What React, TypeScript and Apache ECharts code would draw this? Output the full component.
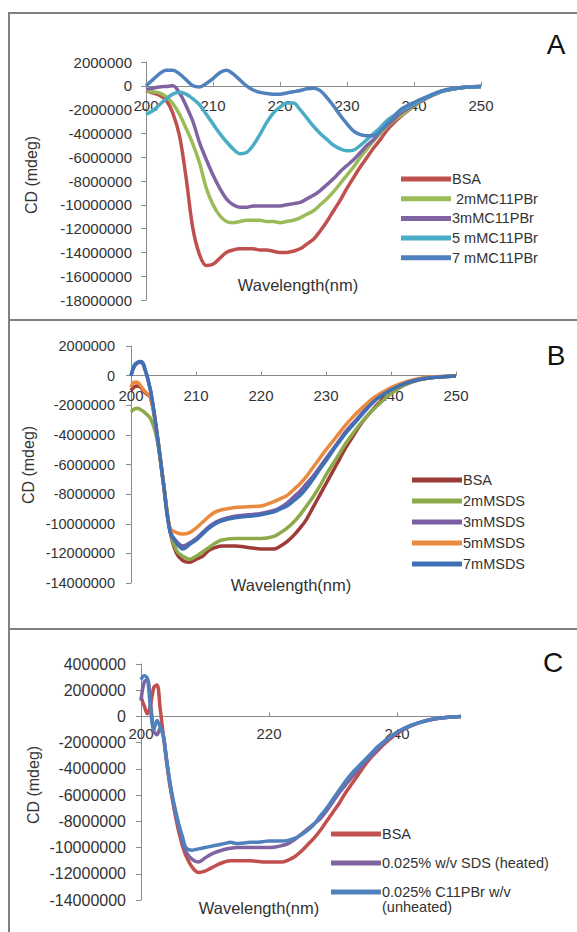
import React, { useEffect, useRef } from 'react';
import * as echarts from 'echarts';

const FONT = '"Liberation Sans", Arial, Helvetica, sans-serif';
const M = 1e6; // values below are in millions of mdeg

// ---------- Panel A ----------
const wlA = [200, 201, 202, 203, 204, 205, 206, 207, 208, 209, 210, 211, 212, 213, 214, 215, 216, 217, 218, 219, 220, 221, 222, 223, 224, 225, 226, 227, 228, 229, 230, 231, 232, 233, 234, 235, 236, 237, 238, 240, 242, 244, 246, 248, 250];
const bsaA = [-0.4, -0.6, -0.8, -1.2, -2.3, -4.2, -7.8, -12.0, -14.2, -15.1, -15.0, -14.5, -14.0, -13.8, -13.7, -13.7, -13.7, -13.8, -13.8, -13.9, -14.0, -14.0, -13.9, -13.7, -13.3, -12.9, -12.2, -11.4, -10.5, -9.6, -8.6, -7.7, -6.8, -6.0, -5.2, -4.5, -3.7, -3.1, -2.6, -1.7, -1.0, -0.5, -0.25, -0.1, -0.05];
const c2A = [-0.4, -0.5, -0.6, -0.9, -1.5, -2.4, -3.6, -4.9, -6.5, -8.6, -10.0, -10.9, -11.4, -11.5, -11.4, -11.3, -11.3, -11.3, -11.4, -11.4, -11.5, -11.4, -11.3, -11.1, -10.8, -10.5, -10.0, -9.5, -8.9, -8.2, -7.5, -6.8, -6.0, -5.3, -4.6, -4.0, -3.4, -2.9, -2.5, -1.7, -1.0, -0.5, -0.25, -0.1, -0.05];
const c3A = [-0.3, -0.2, -0.1, -0.05, 0.0, -0.6, -1.7, -3.0, -4.8, -6.2, -7.5, -8.6, -9.5, -10.0, -10.2, -10.2, -10.1, -10.1, -10.1, -10.1, -10.1, -10.0, -9.9, -9.8, -9.5, -9.2, -8.8, -8.3, -7.8, -7.2, -6.7, -6.2, -5.6, -5.0, -4.5, -3.8, -3.3, -2.8, -2.3, -1.6, -1.0, -0.5, -0.25, -0.1, -0.05];
const c5A = [-2.4, -2.1, -1.6, -1.1, -0.7, -0.55, -0.7, -1.1, -1.6, -2.4, -3.2, -4.0, -4.7, -5.3, -5.7, -5.6, -5.0, -4.1, -3.1, -2.3, -1.8, -1.45, -1.45, -2.0, -2.7, -3.4, -4.0, -4.5, -5.0, -5.3, -5.45, -5.4, -5.0, -4.5, -4.0, -3.5, -2.9, -2.5, -2.1, -1.5, -0.95, -0.5, -0.25, -0.1, -0.05];
const c7A = [0.0, 0.5, 1.0, 1.3, 1.3, 1.0, 0.5, 0.0, -0.1, 0.2, 0.6, 1.1, 1.3, 1.0, 0.5, 0.0, -0.35, -0.55, -0.65, -0.7, -0.7, -0.6, -0.5, -0.4, -0.25, -0.2, -0.4, -1.0, -1.7, -2.5, -3.2, -3.8, -4.1, -4.2, -4.2, -3.8, -3.2, -2.6, -2.0, -1.4, -0.9, -0.45, -0.2, -0.1, -0.05];
const namesA = ['BSA', ' 2mMC11PBr', '3mMC11PBr', '5 mMC11PBr', '7 mMC11PBr'];
const colorsA = ['#C0504D', '#9BBB59', '#8064A2', '#4BACC6', '#4F81BD'];

// ---------- Panel B ----------
const wlB = [200, 200.5, 201, 201.5, 202, 203, 204, 205, 206, 207, 208, 209, 210, 211, 212, 213, 214, 216, 218, 220, 222, 223, 224, 225, 226, 227, 228, 229, 230, 231, 232, 233, 234, 235, 236, 237, 238, 240, 242, 244, 246, 248, 250];
const bsaB = [-1.0, -0.75, -0.7, -0.8, -1.1, -1.5, -4.0, -7.3, -10.5, -12.0, -12.5, -12.6, -12.4, -12.2, -11.8, -11.6, -11.5, -11.5, -11.6, -11.7, -11.7, -11.5, -11.2, -10.8, -10.3, -9.7, -8.9, -8.1, -7.3, -6.5, -5.7, -4.9, -4.2, -3.5, -2.9, -2.4, -1.9, -1.2, -0.65, -0.32, -0.15, -0.07, -0.03];
const c2B = [-2.45, -2.25, -2.2, -2.3, -2.45, -2.9, -4.3, -7.3, -10.4, -11.8, -12.2, -12.4, -12.2, -11.9, -11.6, -11.3, -11.1, -11.0, -11.0, -11.0, -10.85, -10.6, -10.3, -9.9, -9.4, -8.8, -8.2, -7.5, -6.7, -6.0, -5.3, -4.6, -4.0, -3.4, -2.9, -2.4, -2.0, -1.2, -0.65, -0.32, -0.15, -0.07, -0.03];
const c3B = [0.0, 0.6, 0.85, 0.9, 0.6, -1.0, -3.9, -7.3, -10.5, -11.2, -11.5, -11.3, -11.0, -10.6, -10.2, -9.9, -9.7, -9.5, -9.4, -9.3, -9.1, -8.9, -8.6, -8.2, -7.8, -7.3, -6.8, -6.2, -5.6, -5.0, -4.4, -3.8, -3.3, -2.8, -2.3, -1.9, -1.5, -0.95, -0.55, -0.3, -0.15, -0.07, -0.03];
const c5B = [-0.77, -0.45, -0.45, -0.7, -1.0, -1.5, -3.9, -7.3, -10.3, -10.6, -10.7, -10.6, -10.3, -9.9, -9.5, -9.2, -9.05, -8.9, -8.85, -8.8, -8.5, -8.3, -8.1, -7.7, -7.3, -6.8, -6.2, -5.6, -5.0, -4.45, -3.9, -3.35, -2.85, -2.4, -2.0, -1.6, -1.3, -0.8, -0.45, -0.22, -0.1, -0.05, -0.02];
const c7B = [0.0, 0.7, 0.9, 0.95, 0.7, -1.0, -3.9, -7.3, -10.5, -11.3, -11.7, -11.4, -11.1, -10.7, -10.3, -10.0, -9.8, -9.6, -9.5, -9.4, -9.2, -9.0, -8.8, -8.45, -8.1, -7.6, -7.0, -6.35, -5.75, -5.1, -4.5, -3.9, -3.4, -2.9, -2.4, -1.9, -1.5, -0.95, -0.55, -0.3, -0.15, -0.07, -0.03];
const namesB = ['BSA', '2mMSDS', '3mMSDS', '5mMSDS', '7mMSDS'];
const colorsB = ['#9E3B38', '#8CAA4A', '#7A5DA3', '#EA8A3E', '#3F70B5'];

// ---------- Panel C ----------
const wlC = [200, 200.5, 201, 201.5, 202, 202.5, 203, 203.5, 204, 204.5, 205, 205.5, 206, 206.5, 207, 208, 209, 210, 211, 212, 213, 214, 215, 216, 217, 218, 219, 220, 221, 222, 223, 224, 225, 226, 227, 228, 229, 230, 231, 232, 233, 234, 235, 236, 237, 238, 240, 242, 244, 246, 248, 250];
const bsaC = [1.5, 0.8, 0.2, 0.9, 2.2, 2.4, 0.6, -1.5, -3.5, -5.2, -6.6, -7.9, -9.0, -9.9, -10.6, -11.5, -11.9, -11.8, -11.55, -11.3, -11.1, -11.0, -11.0, -11.0, -11.0, -11.05, -11.1, -11.1, -11.1, -11.1, -10.95, -10.7, -10.3, -9.8, -9.3, -8.7, -8.0, -7.3, -6.6, -5.8, -5.1, -4.4, -3.7, -3.1, -2.6, -2.1, -1.3, -0.75, -0.4, -0.18, -0.06, 0];
const sdsC = [1.2, 2.6, 2.8, 1.0, -1.1, -1.4, -0.9, -1.5, -3.3, -5.0, -6.4, -7.6, -8.6, -9.6, -10.3, -10.9, -11.1, -10.8, -10.5, -10.3, -10.15, -10.05, -10.0, -10.0, -10.0, -10.0, -10.0, -10.0, -9.95, -9.85, -9.7, -9.4, -9.0, -8.6, -8.2, -7.8, -7.2, -6.5, -5.8, -5.2, -4.6, -4.05, -3.5, -3.0, -2.5, -2.0, -1.25, -0.75, -0.4, -0.18, -0.06, 0];
const c11C = [2.8, 3.1, 2.9, 0.5, -1.0, -0.3, -0.8, -1.5, -3.3, -5.0, -6.3, -7.4, -8.4, -9.2, -10.0, -10.2, -10.1, -10.0, -9.9, -9.8, -9.7, -9.6, -9.7, -9.65, -9.6, -9.6, -9.55, -9.5, -9.5, -9.5, -9.45, -9.3, -9.05, -8.7, -8.25, -7.6, -7.0, -6.3, -5.6, -4.9, -4.3, -3.8, -3.3, -2.8, -2.3, -1.9, -1.2, -0.7, -0.4, -0.18, -0.06, 0];
const namesC = ['BSA', '0.025% w/v SDS (heated)', '0.025% C11PBr w/v'];
const colorsC = ['#C0504D', '#8064A2', '#4F81BD'];

const pairs = (xs: number[], vs: number[]) => xs.map((x, i) => [x, vs[i] * M]);

const AXIS_COLOR = '#8a8a8a';
const TEXT_COLOR = '#333333';

type G = { left: number; top: number; width: number; height: number };

function axes(i: number, g: G, yMin: number, yMax: number, xInt: number, ySize: number, xSize: number, yMargin: number, xMargin: number) {
  // place the wavelength axis on the zero line of the CD axis, labels below it
  const zeroOffset = -(g.height * (-yMin) / (yMax - yMin));
  const x = {
    type: 'value', gridIndex: i, min: 200, max: 250, interval: xInt, position: 'bottom', offset: zeroOffset,
    axisLine: { show: true, onZero: false, lineStyle: { color: AXIS_COLOR, width: 1 } },
    axisTick: { show: true, inside: true, length: 4, lineStyle: { color: AXIS_COLOR } },
    axisLabel: { color: TEXT_COLOR, fontSize: xSize, fontFamily: FONT, margin: xMargin, showMaxLabel: xInt === 10, formatter: (v: number) => String(v) },
    splitLine: { show: false },
  };
  const y = {
    type: 'value', gridIndex: i, min: yMin, max: yMax, interval: 2000000,
    axisLine: { show: true, onZero: false, lineStyle: { color: AXIS_COLOR, width: 1 } },
    axisTick: { show: true, length: 5, lineStyle: { color: AXIS_COLOR } },
    axisLabel: { color: TEXT_COLOR, fontSize: ySize, fontFamily: FONT, margin: yMargin, formatter: (v: number) => String(v) },
    splitLine: { show: false },
  };
  return { x, y };
}

function lines(i: number, wl: number[], vals: number[][], names: string[], colors: string[]) {
  return vals.map((v, k) => ({
    type: 'line', name: names[k], xAxisIndex: i, yAxisIndex: i,
    data: pairs(wl, v), showSymbol: false, symbol: 'none', smooth: 0.35,
    lineStyle: { width: 3.5, color: colors[k] }, itemStyle: { color: colors[k] },
    silent: true, emphasis: { disabled: true }, z: 2 + k,
  }));
}

function legend(names: string[], colors: string[], left: number, top: number, gap: number, size: number) {
  return {
    orient: 'vertical', left, top, padding: 0, itemWidth: 50, itemHeight: 5, itemGap: gap, icon: 'rect', selectedMode: false,
    data: names.map((n, k) => ({ name: n, itemStyle: { color: colors[k] } })),
    textStyle: { fontSize: size, fontFamily: FONT, color: TEXT_COLOR, lineHeight: 16, padding: [0, 0, 0, -4] },
  };
}

function txt(text: string, x: number, y: number, size: number, rotate = false, color = TEXT_COLOR) {
  return {
    type: 'text', x, y, rotation: rotate ? Math.PI / 2 : 0, silent: true,
    style: { text, fontSize: size, fontFamily: FONT, fill: color, align: 'center', verticalAlign: 'middle' },
  };
}

const gridA: G = { left: 146, top: 62, width: 335, height: 238 };
const gridB: G = { left: 131, top: 346, width: 325, height: 237 };
const gridC: G = { left: 141, top: 664, width: 320, height: 236 };

export default function App() {
  const ref = useRef<HTMLDivElement>(null);
  useEffect(() => {
    const chart = echarts.init(ref.current!, undefined, { renderer: 'svg' });
    const a = axes(0, gridA, -18000000, 2000000, 10, 15, 15, 14, 12);
    const b = axes(1, gridB, -14000000, 2000000, 10, 14.5, 15, 16, 12);
    const c = axes(2, gridC, -14000000, 4000000, 20, 16, 15, 15, 10);
    const border = (y: number, h: number) => ({
      type: 'rect', silent: true, shape: { x: 9, y, width: 640, height: h },
      style: { fill: 'none', stroke: '#808080', lineWidth: 2 },
    });
    const option = {
      animation: false,
      backgroundColor: '#ffffff',
      grid: [gridA, gridB, gridC],
      xAxis: [a.x, b.x, c.x],
      yAxis: [a.y, b.y, c.y],
      legend: [
        legend(namesA, colorsA, 401, 171, 3.7, 14.5),
        legend(namesB, colorsB, 412, 472, 5, 14.5),
        legend(namesC, colorsC, 331, 826, 13, 14.5),
      ],
      series: [
        ...lines(0, wlA, [bsaA, c2A, c3A, c5A, c7A], namesA, colorsA),
        ...lines(1, wlB, [bsaB, c2B, c3B, c5B, c7B], namesB, colorsB),
        ...lines(2, wlC, [bsaC, sdsC, c11C], namesC, colorsC),
      ],
      graphic: [
        border(13, 307),
        border(320, 309),
        border(629, 320),
        txt('A', 556, 44, 28, false, '#111'),
        txt('B', 556, 355, 28, false, '#111'),
        txt('C', 553, 662, 28, false, '#111'),
        txt('CD (mdeg)', 31, 175, 16, true),
        txt('CD (mdeg)', 28, 465, 16, true),
        txt('CD (mdeg)', 33, 785, 16, true),
        txt('Wavelength(nm)', 298, 285, 16.5),
        txt('Wavelength(nm)', 291, 585, 16.5),
        txt('Wavelength(nm)', 259, 908, 16.5),
        {
          type: 'text', x: 382, y: 907, silent: true,
          style: { text: '(unheated)', fontSize: 14.5, fontFamily: FONT, fill: TEXT_COLOR, align: 'left', verticalAlign: 'middle' },
        },
      ],
    };
    chart.setOption(option as any);
    return () => chart.dispose();
  }, []);
  return <div ref={ref} style={{ position: 'fixed', left: 0, top: 0, width: 577, height: 932, background: '#fff' }} />;
}
